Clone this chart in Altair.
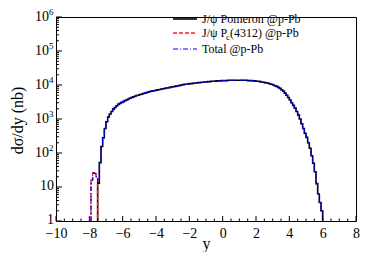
import altair as alt
import pandas as pd

# ---------------- data ----------------
bin_width = 0.1
pomeron_start = -7.5
pomeron = [
    13, 52, 155, 282, 525, 832, 1150, 1410, 1660, 1950,
    2190, 2450, 2690, 2880, 3090, 3240, 3470, 3630, 3890, 4070,
    4270, 4470, 4680, 4900, 5010, 5250, 5370, 5620, 5750, 6030,
    6170, 6460, 6610, 6760, 6920, 7080, 7240, 7410, 7590, 7760,
    7940, 8130, 8320, 8510, 8710, 8910, 9120, 9330, 9550, 9770,
    10000, 10230, 10470, 10470, 10720, 10960, 10960, 11220, 11480, 11480,
    11750, 11750, 12020, 12020, 12300, 12300, 12590, 12590, 12880, 12880,
    12880, 13180, 13180, 13180, 13490, 13490, 13490, 13490, 13800, 13800,
    13800, 13800, 13800, 13800, 13800, 13800, 13800, 13800, 13800, 13800,
    13490, 13490, 13490, 13180, 13180, 12880, 12880, 12590, 12300, 12020,
    11750, 11480, 11220, 10720, 10470, 10000, 9550, 9120, 8510, 7940,
    7240, 6610, 5750, 5010, 4270, 3630, 3020, 2510, 2090, 1660,
    1320, 1000, 724, 525, 380, 288, 200, 138, 83, 50,
    28, 12.6, 6.3, 3.5, 2.0,
]
pc_start = -7.9
pc = [16, 26, 25, 20]

x_ticks_major = [-10, -8, -6, -4, -2, 0, 2, 4, 6, 8]
x_ticks_minor = [-9.5, -9, -8.5, -7.5, -7, -6.5, -5.5, -5, -4.5, -3.5, -3, -2.5,
                 -1.5, -1, -0.5, 0.5, 1, 1.5, 2.5, 3, 3.5, 4.5, 5, 5.5, 6.5, 7, 7.5]
y_tick_values = [1, 10, 100, 1000, 10000, 100000, 1000000]
y_tick_base = ["1", "10", "10", "10", "10", "10", "10"]
y_tick_exp = ["", "", "2", "3", "4", "5", "6"]
y_minor_mult = [2, 3, 4, 5, 6, 7, 8, 9]

legend_labels = ["J/ψ Pomeron @p-Pb", "J/ψ P", "c", "(4312) @p-Pb", "Total @p-Pb"]
series_colors = ["#000000", "#ff2020", "#0000ff"]

FONT = "Liberation Serif"
W, H = 300, 204


def step_frame(start, vals):
    n = len(vals)
    xs = [round(start, 2)] + [round(start + i * bin_width, 2) for i in range(n)] + [round(start + n * bin_width, 2)]
    ys = [1] + list(vals) + [1]
    return pd.DataFrame({"x": xs, "v": ys, "i": list(range(len(xs)))})


# total = pomeron + Pc on the common bin grid
total_map = {}
for k, v in enumerate(pc):
    key = round(pc_start + k * bin_width, 2)
    total_map[key] = total_map.get(key, 0) + v
for k, v in enumerate(pomeron):
    key = round(pomeron_start + k * bin_width, 2)
    total_map[key] = total_map.get(key, 0) + v
keys = sorted(total_map)
total = [total_map[k] for k in keys]

xscale = alt.Scale(domain=[-10, 8], nice=False, zero=False)
yscale = alt.Scale(type="log", domain=[1, 1000000], nice=False)

x_axis = alt.Axis(values=x_ticks_major, ticks=False, domain=False, grid=False,
                  labelFontSize=14, labelPadding=5, labelFlush=False,
                  title="y", titleFontSize=16, titleFontWeight="normal",
                  titleX=W / 2, titleY=27, titleBaseline="alphabetic", titleAlign="center")
y_axis = alt.Axis(labels=False, ticks=False, domain=False, grid=False,
                  title="dσ/dy (nb)", titleFontSize=16, titleFontWeight="normal",
                  titleAngle=270, titleX=-39, titleY=103, titleAlign="center",
                  titleBaseline="middle")


def X(field):
    return alt.X(field, scale=xscale, axis=x_axis, title="y")


def Y(field):
    return alt.Y(field, scale=yscale, axis=y_axis, title="dσ/dy (nb)")


def hist_layer(df, color, dash, width):
    return alt.Chart(df).mark_line(
        interpolate="step-after", color=color, strokeDash=dash, strokeWidth=width, clip=True
    ).encode(x=X("x:Q"), y=Y("v:Q"), order="i:Q")


black = hist_layer(step_frame(pomeron_start, pomeron), series_colors[0], [1, 0], 1.6)
red = hist_layer(step_frame(pc_start, pc), series_colors[1], [4, 2], 1.6)
blue = hist_layer(step_frame(keys[0], total), series_colors[2], [5, 2, 1, 2], 1.1)

# ---- inward ticks ----
xt_major = alt.Chart(pd.DataFrame({"x": x_ticks_major})).mark_rule(color="black", strokeWidth=1).encode(
    x=X("x:Q"), y=alt.value(H), y2=alt.value(H - 5))
xt_minor = alt.Chart(pd.DataFrame({"x": x_ticks_minor})).mark_rule(color="black", strokeWidth=1).encode(
    x=X("x:Q"), y=alt.value(H), y2=alt.value(H - 2.5))
y_minor_vals = [m * d for d in y_tick_values[:-1] for m in y_minor_mult]
yt_major = alt.Chart(pd.DataFrame({"v": y_tick_values})).mark_rule(color="black", strokeWidth=1).encode(
    y=Y("v:Q"), x=alt.value(0), x2=alt.value(6))
yt_minor = alt.Chart(pd.DataFrame({"v": y_minor_vals})).mark_rule(color="black", strokeWidth=1).encode(
    y=Y("v:Q"), x=alt.value(0), x2=alt.value(3))

# ---- y labels with superscripts ----
ylab = pd.DataFrame({"v": y_tick_values, "base": y_tick_base, "exp": y_tick_exp})
ylab_plain = ylab[ylab["exp"] == ""]
ylab_pow = ylab[ylab["exp"] != ""]
yl_plain = alt.Chart(ylab_plain).mark_text(align="right", baseline="middle", font=FONT, fontSize=14, color="black", dy=-1).encode(
    y=Y("v:Q"), x=alt.value(-2), text="base:N")
yl_pow = alt.Chart(ylab_pow).mark_text(align="right", baseline="middle", font=FONT, fontSize=14, color="black").encode(
    y=Y("v:Q"), x=alt.value(-7), text="base:N")
yl_exp = alt.Chart(ylab_pow).mark_text(align="left", baseline="middle", font=FONT, fontSize=9, color="black", dy=-5).encode(
    y=Y("v:Q"), x=alt.value(-7), text="exp:N")

# ---- legend ----
one = pd.DataFrame({"k": [0]})
leg_y = [2, 16, 32]
leg = []
leg.append(alt.Chart(one).mark_rule(color=series_colors[0], strokeWidth=1.6).encode(
    x=alt.value(117), x2=alt.value(141), y=alt.value(leg_y[0])))
leg.append(alt.Chart(one).mark_rule(color=series_colors[1], strokeWidth=1.6, strokeDash=[4, 2]).encode(
    x=alt.value(117), x2=alt.value(141), y=alt.value(leg_y[1])))
leg.append(alt.Chart(one).mark_rule(color=series_colors[2], strokeWidth=1.1, strokeDash=[5, 2, 1, 2]).encode(
    x=alt.value(117), x2=alt.value(141), y=alt.value(leg_y[2])))
txt = dict(font=FONT, fontSize=12, color="black", baseline="middle", align="left")
leg.append(alt.Chart(one).mark_text(text=legend_labels[0], **txt).encode(x=alt.value(146), y=alt.value(leg_y[0])))
leg.append(alt.Chart(one).mark_text(text=legend_labels[1], **txt).encode(x=alt.value(146), y=alt.value(leg_y[1])))
leg.append(alt.Chart(one).mark_text(text=legend_labels[2], font=FONT, fontSize=9, color="black",
                                    baseline="middle", align="left").encode(x=alt.value(170), y=alt.value(leg_y[1] + 4)))
leg.append(alt.Chart(one).mark_text(text=legend_labels[3], **txt).encode(x=alt.value(174), y=alt.value(leg_y[1])))
leg.append(alt.Chart(one).mark_text(text=legend_labels[4], **txt).encode(x=alt.value(146), y=alt.value(leg_y[2])))

chart = alt.layer(
    black, red, blue, xt_major, xt_minor, yt_major, yt_minor, yl_plain, yl_pow, yl_exp, *leg
).properties(
    width=W, height=H,
    padding={"left": 48, "top": 9, "right": 10, "bottom": 31},
    autosize=alt.AutoSizeParams(type="none"),
    background="white",
).configure_view(
    stroke="black", strokeWidth=1
).configure_axis(
    labelFont=FONT, titleFont=FONT, labelColor="black", titleColor="black",
    titleFontWeight="normal"
)

chart.save("out.html", embed_options={"renderer": "svg", "actions": False})
